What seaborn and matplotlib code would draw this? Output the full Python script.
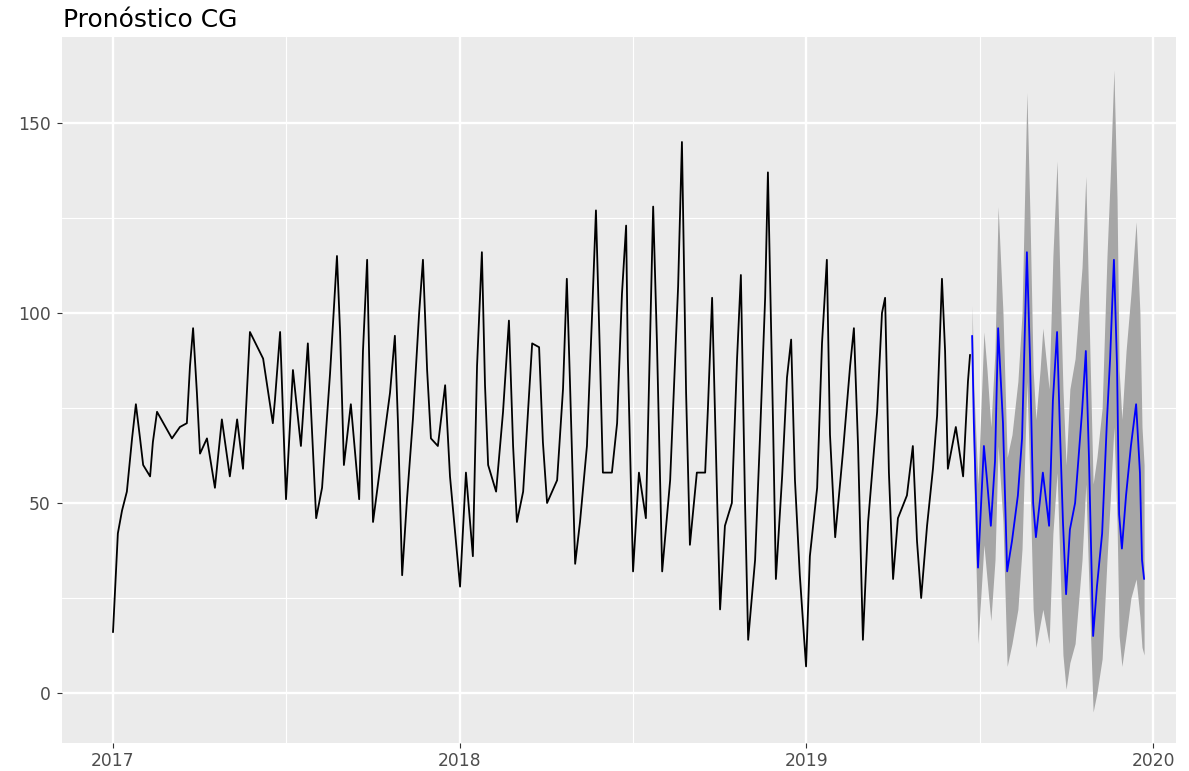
import numpy as np
import pandas as pd
import matplotlib
matplotlib.use("Agg")
import matplotlib.pyplot as plt
import seaborn as sns
from matplotlib.ticker import FixedLocator

# ---------------- data (decimal years) ----------------
hist_t = [2017.000, 2017.006, 2017.014, 2017.026, 2017.040, 2017.055, 2017.066, 2017.078,
          2017.087, 2017.107, 2017.115, 2017.127, 2017.170, 2017.193, 2017.213, 2017.222,
          2017.231, 2017.242, 2017.251, 2017.271, 2017.294, 2017.314, 2017.337, 2017.358,
          2017.375, 2017.395, 2017.433, 2017.461, 2017.467, 2017.482, 2017.499, 2017.519,
          2017.542, 2017.562, 2017.586, 2017.603, 2017.626, 2017.646, 2017.655, 2017.666,
          2017.686, 2017.710, 2017.721, 2017.733, 2017.741, 2017.750, 2017.770, 2017.799,
          2017.813, 2017.822, 2017.834, 2017.848, 2017.865, 2017.883, 2017.894, 2017.906,
          2017.917, 2017.937, 2017.958, 2017.972, 2018.001, 2018.018, 2018.038, 2018.050,
          2018.064, 2018.073, 2018.082, 2018.105, 2018.125, 2018.142, 2018.154, 2018.165,
          2018.183, 2018.209, 2018.229, 2018.240, 2018.252, 2018.281, 2018.298, 2018.309,
          2018.318, 2018.333, 2018.347, 2018.367, 2018.382, 2018.393, 2018.405, 2018.413,
          2018.439, 2018.454, 2018.468, 2018.480, 2018.485, 2018.500, 2018.517, 2018.537,
          2018.558, 2018.569, 2018.584, 2018.607, 2018.630, 2018.641, 2018.653, 2018.664,
          2018.684, 2018.708, 2018.716, 2018.728, 2018.742, 2018.751, 2018.765, 2018.785,
          2018.800, 2018.811, 2018.823, 2018.832, 2018.852, 2018.866, 2018.881, 2018.889,
          2018.904, 2018.912, 2018.930, 2018.944, 2018.956, 2018.967, 2018.981, 2018.999,
          2019.010, 2019.031, 2019.045, 2019.059, 2019.068, 2019.083, 2019.106, 2019.126,
          2019.137, 2019.149, 2019.163, 2019.178, 2019.204, 2019.218, 2019.227, 2019.238,
          2019.250, 2019.264, 2019.290, 2019.307, 2019.319, 2019.331, 2019.348, 2019.365,
          2019.377, 2019.391, 2019.400, 2019.408, 2019.431, 2019.452, 2019.466, 2019.472]
hist_v = [16, 27, 42, 48, 53, 67, 76, 67,
          60, 57, 66, 74, 67, 70, 71, 86,
          96, 79, 63, 67, 54, 72, 57, 72,
          59, 95, 88, 71, 77, 95, 51, 85,
          65, 92, 46, 54, 84, 115, 95, 60,
          76, 51, 90, 114, 79, 45, 59, 79,
          94, 71, 31, 51, 72, 100, 114, 85,
          67, 65, 81, 57, 28, 58, 36, 86,
          116, 81, 60, 53, 74, 98, 65, 45,
          53, 92, 91, 66, 50, 56, 80, 109,
          82, 34, 45, 65, 100, 127, 87, 58,
          58, 71, 105, 123, 88, 32, 58, 46,
          128, 92, 32, 56, 107, 145, 79, 39,
          58, 58, 75, 104, 53, 22, 44, 50,
          88, 110, 50, 14, 35, 67, 104, 137,
          70, 30, 57, 83, 93, 56, 31, 7,
          36, 54, 92, 114, 68, 41, 64, 86,
          96, 65, 14, 45, 74, 100, 104, 58,
          30, 46, 52, 65, 40, 25, 44, 59,
          73, 109, 90, 59, 70, 57, 82, 89]

fc_t = [2019.478, 2019.483, 2019.495, 2019.512, 2019.521, 2019.532, 2019.544, 2019.553,
        2019.567, 2019.579, 2019.593, 2019.610, 2019.622, 2019.636, 2019.645, 2019.654,
        2019.662, 2019.674, 2019.682, 2019.700, 2019.711, 2019.723, 2019.731, 2019.740,
        2019.749, 2019.760, 2019.775, 2019.795, 2019.806, 2019.815, 2019.827, 2019.838,
        2019.853, 2019.867, 2019.876, 2019.887, 2019.896, 2019.902, 2019.910, 2019.922,
        2019.936, 2019.951, 2019.962, 2019.968, 2019.974]
fc_mean = [94, 71, 33, 65, 56, 44, 61, 96,
           71, 32, 40, 52, 67, 116, 88, 50,
           41, 51, 58, 44, 77, 95, 70, 45,
           26, 43, 50, 74, 90, 62, 15, 28,
           42, 72, 88, 114, 86, 47, 38, 52,
           65, 76, 58, 35, 30]
fc_lo = [84, 55, 13, 39, 30, 19, 35, 65,
         45, 7, 13, 22, 38, 82, 55, 22,
         12, 18, 22, 13, 42, 58, 35, 10,
         1, 8, 13, 35, 55, 28, -5, 0,
         9, 35, 50, 70, 45, 15, 7, 15,
         25, 30, 20, 12, 10]
fc_hi = [102, 80, 55, 95, 85, 70, 90, 128,
         100, 62, 68, 82, 100, 158, 125, 85,
         72, 85, 96, 80, 115, 140, 110, 80,
         60, 80, 88, 112, 136, 100, 55, 62,
         75, 115, 135, 164, 130, 85, 72, 90,
         105, 124, 100, 70, 60]

x_major = [2017, 2018, 2019, 2020]
x_minor = [2017.5, 2018.5, 2019.5]
y_major = [0, 50, 100, 150]
y_minor = [25, 75, 125]

# ---------------- style ----------------
sns.set_theme(style="darkgrid")
plt.rcParams['font.family'] = ['DejaVu Sans']

W, H = 1189, 771
fig = plt.figure(figsize=(W / 100, H / 100), dpi=100)
left, right, top, bottom = 62, 1176, 37, 743
ax = fig.add_axes([left / W, 1 - bottom / H, (right - left) / W, (bottom - top) / H])
ax.set_facecolor('#EBEBEB')

hist = pd.DataFrame({'t': hist_t, 'v': hist_v})
fc = pd.DataFrame({'t': fc_t, 'mean': fc_mean, 'lo': fc_lo, 'hi': fc_hi})

ax.fill_between(fc['t'], fc['lo'], fc['hi'], color='#A6A6A6', lw=0, zorder=2)
sns.lineplot(data=hist, x='t', y='v', color='black', lw=1.3, ax=ax,
             estimator=None, sort=False, zorder=3)
sns.lineplot(data=fc, x='t', y='mean', color='#0000FF', lw=1.3, ax=ax,
             estimator=None, sort=False, zorder=4)

ax.set_xlim(2017 + (left - 113) / 346.7, 2017 + (right - 113) / 346.7)
ax.set_ylim((693 - bottom) / 3.8, (693 - top) / 3.8)

ax.xaxis.set_major_locator(FixedLocator(x_major))
ax.xaxis.set_minor_locator(FixedLocator(x_minor))
ax.yaxis.set_major_locator(FixedLocator(y_major))
ax.yaxis.set_minor_locator(FixedLocator(y_minor))
ax.set_xticklabels([str(v) for v in x_major])
ax.set_yticklabels([str(v) for v in y_major])

ax.grid(which='major', color='white', lw=1.7)
ax.grid(which='minor', color='white', lw=0.85)
ax.set_axisbelow(True)
for s in ax.spines.values():
    s.set_visible(False)

ax.tick_params(axis='both', which='major', length=3.8, width=0.8, color='#333333',
               labelcolor='#4D4D4D', labelsize=12.3, bottom=True, left=True)
ax.tick_params(axis='x', which='major', pad=2.5)
ax.tick_params(axis='y', which='major', pad=4.5)
ax.tick_params(which='minor', length=0)
ax.set_xlabel('')
ax.set_ylabel('')

fig.text(63 / W, 1 - 27 / H, 'Pronóstico CG', fontsize=18, color='black',
         ha='left', va='baseline')

fig.savefig('out.png', dpi=100)
